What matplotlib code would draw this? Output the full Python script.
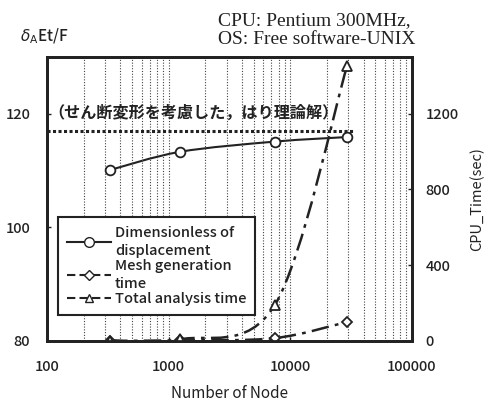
import numpy as np
import matplotlib
matplotlib.use("Agg")
import matplotlib.pyplot as plt
from matplotlib.path import Path
from matplotlib.patches import PathPatch
from matplotlib.lines import Line2D
from matplotlib.ticker import FixedLocator, FuncFormatter, LogLocator

plt.rcParams['font.family'] = ['Noto Sans CJK JP', 'DejaVu Sans']
plt.rcParams['font.weight'] = 'medium'

# data
nodes = [330, 1240, 7460, 29200]
disp = [110.1, 113.3, 115.1, 115.9]          # dimensionless displacement
mesh_time = [1, 3, 15, 100]                  # sec
total_time = [2, 8, 190, 1450]               # sec
theory = 116.9                               # beam theory incl. shear deformation
theory_x = [100, 34000]

ink = '#222222'


def smooth_path(xs, ys):
    # Excel-like smoothed line: Catmull-Rom bezier in (log x, y)
    u = np.log10(np.asarray(xs, float))
    v = np.asarray(ys, float)
    p = np.column_stack([u, v])
    n = len(p)
    verts = [p[0]]
    codes = [Path.MOVETO]
    for i in range(n - 1):
        p0 = p[i - 1] if i > 0 else p[i]
        p3 = p[i + 2] if i + 2 < n else p[i + 1]
        c1 = p[i] + (p[i + 1] - p0) / 6
        c2 = p[i + 1] - (p3 - p[i]) / 6
        verts += [c1, c2, p[i + 1]]
        codes += [Path.CURVE4] * 3
    verts = np.array(verts)
    verts[:, 0] = 10 ** verts[:, 0]
    return Path(verts, codes)


fig = plt.figure(figsize=(4.89, 4.03), dpi=100)
ax = fig.add_axes([0.096, 0.154, 0.7465, 0.7046])
ax2 = ax.twinx()

ax.set_xscale('log')
ax.set_xlim(100, 100000)
ax.set_ylim(80, 130)
ax2.set_ylim(0, 1500)

ax.xaxis.set_major_locator(FixedLocator([100, 1000, 10000, 100000]))
ax.xaxis.set_minor_locator(LogLocator(base=10, subs=np.arange(2, 10)))
ax.xaxis.set_major_formatter(FuncFormatter(lambda v, p: '%d' % v))
ax.xaxis.set_minor_formatter(FuncFormatter(lambda v, p: ''))
ax.grid(True, which='both', axis='x', linestyle=(0, (1, 1.5)), color='#444444', lw=0.8)

ax.set_yticks([80, 100, 120])
ax2.set_yticks([0, 400, 800, 1200])

for a in (ax, ax2):
    for s in a.spines.values():
        s.set_linewidth(2)
        s.set_color(ink)
    a.tick_params(which='both', direction='in', length=3, colors=ink,
                  labelsize=10.5, width=1)
ax.tick_params(axis='x', which='minor', length=0)
ax.tick_params(axis='x', pad=14)
ax.tick_params(axis='y', pad=12)
ax2.tick_params(axis='y', pad=10)

# displacement + theory line
ax.plot(theory_x, [theory, theory], color=ink, lw=2.2, linestyle=(0, (1, 0.8)))
ax.add_patch(PathPatch(smooth_path(nodes, disp), fill=False, edgecolor=ink, lw=1.5))
ax.plot(nodes, disp, linestyle='none', marker='o', ms=7, mfc='white', mec=ink, mew=1.3)

dash = (0, (7, 2.5, 1.5, 2.5))
ax2.add_patch(PathPatch(smooth_path(nodes, total_time), fill=False, edgecolor=ink,
                        lw=1.8, linestyle=dash))
ax2.add_patch(PathPatch(smooth_path(nodes, mesh_time), fill=False, edgecolor=ink,
                        lw=1.8, linestyle=dash))
ax2.plot(nodes, mesh_time, linestyle='none', marker='D', ms=5.5, mfc='white', mec=ink, mew=1.3)
ax2.plot(nodes, total_time, linestyle='none', marker='^', ms=7, mfc='white', mec=ink, mew=1.3)

ax.text(102, 120.2, '（せん断変形を考慮した，はり理論解）', fontsize=11.6,
        fontweight='bold', color=ink, va='center', ha='left')

handles = [
    Line2D([], [], color=ink, lw=1.5, marker='o', ms=7, mfc='white', mec=ink),
    Line2D([], [], color=ink, lw=1.5, linestyle=(0, (4, 2)), marker='D', ms=5, mfc='white', mec=ink),
    Line2D([], [], color=ink, lw=1.5, linestyle=(0, (4, 2)), marker='^', ms=6, mfc='white', mec=ink),
]
labels = ['Dimensionless of\ndisplacement', 'Mesh generation\ntime', 'Total analysis time']
leg = ax2.legend(handles, labels, loc='upper left', bbox_to_anchor=(58 / 489, 1 - 217 / 403),
                 bbox_transform=fig.transFigure, fontsize=10.5, handlelength=3,
                 handletextpad=0.3, labelspacing=0.1, borderpad=0.6, borderaxespad=0,
                 fancybox=False, framealpha=1, edgecolor=ink)
leg.get_frame().set_linewidth(1.5)
for t in leg.get_texts():
    t.set_color(ink)
    t.set_linespacing(1.35)

fig.text(20 / 489, 1 - 36 / 403, r'$\delta_{\mathsf{A}}$Et/F', fontsize=11, color=ink,
         va='center', ha='left')
fig.text(218 / 489, 1 - 30 / 403, 'CPU: Pentium 300MHz,\nOS: Free software-UNIX',
         family='Liberation Serif', fontsize=14, color=ink, ha='left', va='center',
         linespacing=1.12)
ax.set_xlabel('Number of Node', fontsize=11, color=ink, labelpad=8)
ax2.set_ylabel('CPU_Time(sec)', fontsize=10.5, color=ink, labelpad=8)

fig.savefig('out.png', dpi=100)
